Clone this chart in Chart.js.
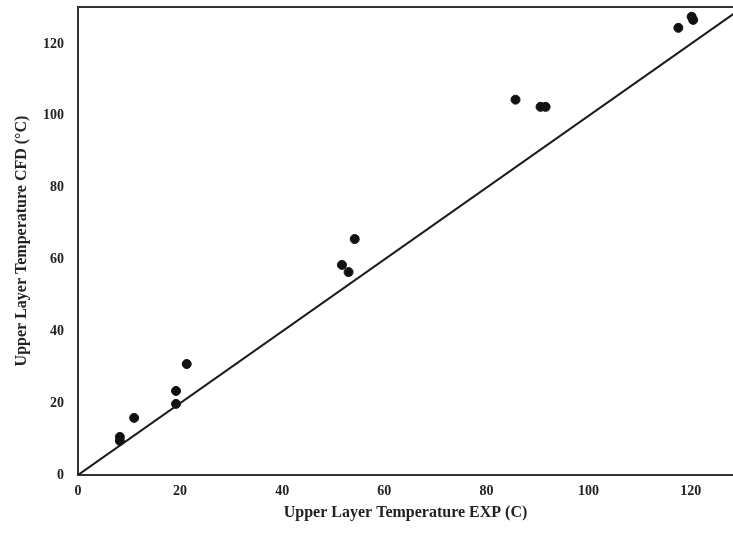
<!DOCTYPE html>
<html>
<head>
<meta charset="utf-8">
<script src="https://cdn.jsdelivr.net/npm/chart.js@4"></script>
<style>
html,body{margin:0;padding:0;background:#fff;}
#wrap{width:733px;height:546px;position:relative;}
</style>
</head>
<body>
<div id="wrap"><canvas id="c"></canvas></div>
<script>
const expTemps = [8.2, 8.2, 11.0, 19.2, 19.2, 21.3, 51.7, 53.0, 54.2, 85.7, 90.6, 91.6, 117.6, 120.2, 120.5];
const cfdTemps = [10.6, 9.5, 15.9, 23.4, 19.8, 30.9, 58.5, 56.5, 65.7, 104.5, 102.5, 102.5, 124.5, 127.6, 126.7];
const identityX = [0, 130];
const identityY = [0, 130];
const xTicks = [0, 20, 40, 60, 80, 100, 120];
const yTicks = [0, 20, 40, 60, 80, 100, 120];
const xTitle = 'Upper Layer Temperature EXP (C)';
const yTitle = 'Upper Layer Temperature CFD (°C)';

const points = expTemps.map((x, i) => ({x: x, y: cfdTemps[i]}));
const line = identityX.map((x, i) => ({x: x, y: identityY[i]}));

const topBorder = {
  id: 'topBorder',
  afterDraw(chart) {
    const a = chart.chartArea, ctx = chart.ctx;
    ctx.save();
    ctx.strokeStyle = '#333';
    ctx.lineWidth = 2;
    ctx.beginPath();
    ctx.moveTo(a.left - 1, a.top);
    ctx.lineTo(a.right, a.top);
    ctx.stroke();
    ctx.restore();
  }
};

const tickFont = {family: '"Liberation Serif", "Times New Roman", serif', size: 14, weight: 'bold'};
const titleFont = {family: '"Liberation Serif", "Times New Roman", serif', size: 16, weight: 'bold'};

function noPad(s) { s.paddingTop = 0; s.paddingBottom = 0; s.paddingLeft = 0; s.paddingRight = 0; }

new Chart(document.getElementById('c'), {
  type: 'scatter',
  data: {
    datasets: [
      {
        type: 'line',
        data: line,
        borderColor: '#1a1a1a',
        borderWidth: 2,
        pointRadius: 0,
        fill: false,
        clip: 0
      },
      {
        data: points,
        backgroundColor: '#111',
        borderColor: '#111',
        pointRadius: 4.5,
        pointHoverRadius: 4.5
      }
    ]
  },
  options: {
    responsive: true,
    maintainAspectRatio: false,
    animation: false,
    layout: {autoPadding: false, padding: {top: 7, right: 0, left: 0, bottom: 0}},
    plugins: {legend: {display: false}, tooltip: {enabled: false}},
    scales: {
      x: {
        type: 'linear',
        min: 0,
        max: 128.3,
        afterBuildTicks(s) { s.ticks = xTicks.map(v => ({value: v})); },
        afterFit(s) { s.height = 71; noPad(s); },
        grid: {display: false, drawTicks: false},
        border: {display: true, color: '#333', width: 2},
        ticks: {color: '#222', font: tickFont, padding: 8, maxRotation: 0},
        title: {display: true, text: xTitle, color: '#222', font: titleFont, padding: {top: 0, bottom: 24}}
      },
      y: {
        type: 'linear',
        min: 0,
        max: 130.3,
        afterBuildTicks(s) { s.ticks = yTicks.map(v => ({value: v})); },
        afterFit(s) { s.width = 78; noPad(s); },
        grid: {display: false, drawTicks: false},
        border: {display: true, color: '#333', width: 2},
        ticks: {color: '#222', font: tickFont, padding: 14},
        title: {display: true, text: yTitle, color: '#222', font: titleFont, padding: {top: 12, bottom: 0}}
      }
    }
  },
  plugins: [topBorder]
});
</script>
</body>
</html>
